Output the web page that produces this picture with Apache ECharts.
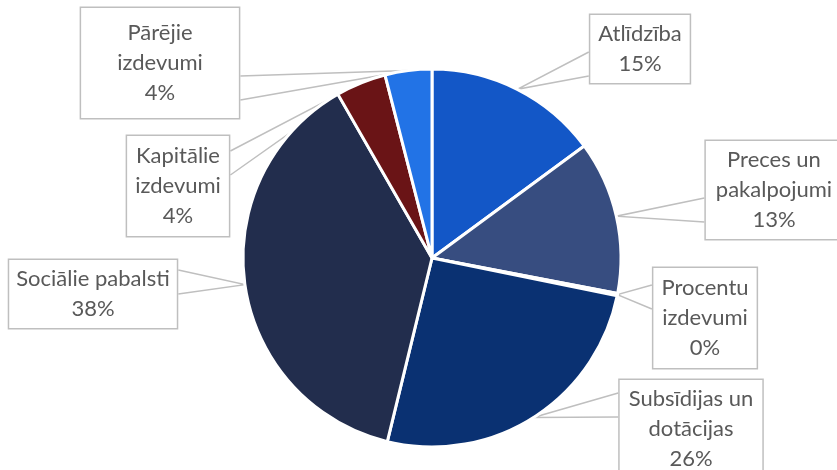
<!DOCTYPE html>
<html>
<head>
<meta charset="utf-8">
<script src="https://cdn.jsdelivr.net/npm/echarts@6/dist/echarts.min.js"></script>
<style>html,body{margin:0;padding:0;background:#fff}#c{width:837px;height:470px}</style>
</head>
<body>
<div id="c"></div>
<script>
const categories = ['Atlīdzība', 'Preces un pakalpojumi', 'Procentu izdevumi', 'Subsīdijas un dotācijas', 'Sociālie pabalsti', 'Kapitālie izdevumi', 'Pārējie izdevumi'];
const labelTexts = ['Atlīdzība', 'Preces un\npakalpojumi', 'Procentu\nizdevumi', 'Subsīdijas un\ndotācijas', 'Sociālie pabalsti', 'Kapitālie\nizdevumi', 'Pārējie\nizdevumi'];
const values = [14.9, 13.1, 0.2, 25.6, 37.9, 4.3, 4.0];

const colors = ['#1357c7', '#374d80', '#b0302d', '#0a3172', '#222d4d', '#6a1416', '#2273e6'];
const labelCenters = [[640, 49], [774, 190], [705, 318], [691, 429], [93, 294], [178, 186], [160, 63]];
const labelPads = [[4, 8], [4, 10], [5, 8], [4, 9], [4, 7], [5, 8], [10, 36]];
const baseCenterY = [64, 210, 297, 405, 282, 163, 88];

const CX = 432, CY = 258, R = 189;
const total = values.reduce((a, b) => a + b, 0);
const midAngles = [];
(function () { let acc = 0; values.forEach(v => { midAngles.push((acc + v / 2) / total * 2 * Math.PI); acc += v; }); })();

const chart = echarts.init(document.getElementById('c'));
chart.setOption({
  animation: false,
  series: [{
    type: 'pie',
    center: [CX, CY],
    radius: R,
    startAngle: 90,
    clockwise: true,
    avoidLabelOverlap: false,
    percentPrecision: 0,
    itemStyle: { borderColor: '#ffffff', borderWidth: 3 },
    label: {
      show: true,
      fontFamily: 'Lato',
      fontSize: 22,
      lineHeight: 30,
      color: '#595959',
      align: 'center',
      backgroundColor: '#ffffff',
      borderColor: '#bfbfbf',
      borderWidth: 1.5
    },
    labelLine: {
      show: true,
      length: 20,
      length2: 10,
      lineStyle: { color: '#bfbfbf', width: 1.5 }
    },
    labelLayout: function (p) {
      const i = p.dataIndex;
      const c = labelCenters[i];
      const w = p.labelRect.width, h = p.labelRect.height;
      const a = midAngles[i];
      const tip = [CX + R * Math.sin(a), CY - R * Math.cos(a)];
      const left = c[0] - w / 2, right = c[0] + w / 2;
      const bx = tip[0] < left ? left : right;
      const by = baseCenterY[i];
      return {
        x: c[0], y: c[1], align: 'center', verticalAlign: 'middle',
        labelLinePoints: [[bx, by - 12], tip, [bx, by + 12]]
      };
    },
    data: categories.map((name, i) => ({
      name: name,
      value: values[i],
      itemStyle: { color: colors[i] },
      label: {
        formatter: labelTexts[i] + '\n{d}%',
        padding: labelPads[i]
      }
    }))
  }]
});
</script>
</body>
</html>
